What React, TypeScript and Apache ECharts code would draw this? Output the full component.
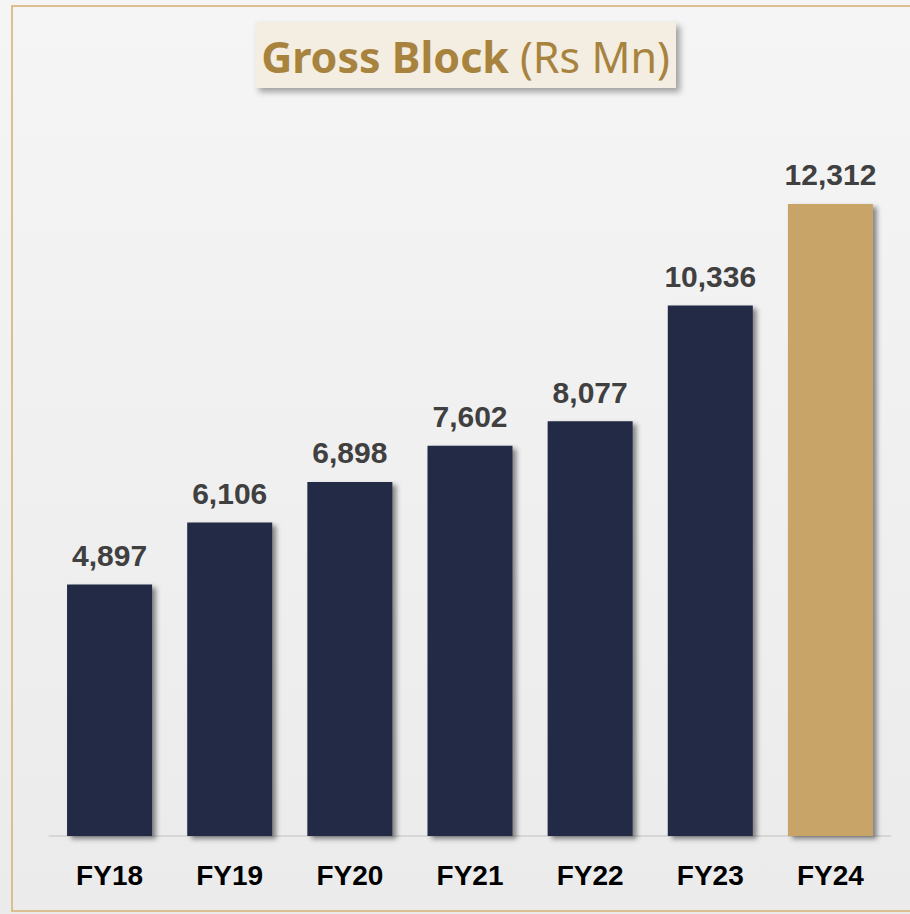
import React, { useEffect, useRef } from "react";
import * as echarts from "echarts";

const categories = ["FY18", "FY19", "FY20", "FY21", "FY22", "FY23", "FY24"];
const values = [4897, 6106, 6898, 7602, 8077, 10336, 12312];
const titleBold = "Gross Block";
const titleUnit = "(Rs Mn)";

const NAVY = "#212a45";
const GOLD = "#c8a468";

export default function App() {
  const ref = useRef<HTMLDivElement>(null);
  useEffect(() => {
    if (!ref.current) return;
    const chart = echarts.init(ref.current, null, { renderer: "svg" });
    chart.setOption({
      animation: false,
      backgroundColor: {
        type: "linear",
        x: 0,
        y: 0,
        x2: 0,
        y2: 1,
        colorStops: [
          { offset: 0, color: "#f5f5f5" },
          { offset: 1, color: "#ebebeb" },
        ],
      },
      graphic: [
        {
          type: "rect",
          shape: { x: 12, y: 6, width: 920, height: 905 },
          style: { fill: "none", stroke: "#dbbf8e", lineWidth: 2 },
          z: 0,
        },
        {
          type: "rect",
          shape: { x: 255, y: 22, width: 421, height: 66 },
          style: {
            fill: "#f3ede2",
            shadowBlur: 6,
            shadowOffsetX: 4,
            shadowOffsetY: 4,
            shadowColor: "rgba(0,0,0,0.35)",
          },
          z: 1,
        },
        {
          type: "text",
          x: 465.5,
          y: 56,
          z: 2,
          style: {
            text: `{b|${titleBold}}{n|${titleUnit}}`,
            align: "center",
            verticalAlign: "middle",
            rich: {
              b: {
                fontFamily: "Noto Sans",
                fontWeight: "bold",
                fontSize: 43,
                fill: "#a8833e",
                color: "#a8833e",
                padding: [0, 11, 0, 0],
              },
              n: {
                fontFamily: "Noto Sans",
                fontWeight: "normal",
                fontSize: 43,
                fill: "#a8833e",
                color: "#a8833e",
              },
            },
          },
        },
      ],
      grid: { left: 49.5, width: 841, top: 117.3, bottom: 78, containLabel: false },
      xAxis: {
        type: "category",
        data: categories,
        axisLine: { show: true, lineStyle: { color: "#d6d6d6", width: 2 } },
        axisTick: { show: false },
        axisLabel: {
          margin: 25,
          fontFamily: "Liberation Sans",
          fontWeight: "bold",
          fontSize: 28,
          color: "#000000",
        },
      },
      yAxis: { type: "value", min: 0, max: 14000, show: false, splitLine: { show: false } },
      series: [
        {
          type: "bar",
          barWidth: 85,
          data: values.map((v, i) => ({
            value: v,
            itemStyle: { color: i === values.length - 1 ? GOLD : NAVY },
          })),
          itemStyle: {
            shadowBlur: 5,
            shadowOffsetX: 4,
            shadowOffsetY: 3,
            shadowColor: "rgba(0,0,0,0.45)",
          },
          label: {
            show: true,
            position: "top",
            distance: 14,
            fontFamily: "Liberation Sans",
            fontWeight: "bold",
            fontSize: 30,
            color: "#404040",
            formatter: (p: any) => Number(p.value).toLocaleString("en-US"),
          },
        },
      ],
    });
    return () => chart.dispose();
  }, []);
  return (
    <div
      ref={ref}
      style={{ position: "absolute", left: 0, top: 0, width: 910, height: 914 }}
    />
  );
}
